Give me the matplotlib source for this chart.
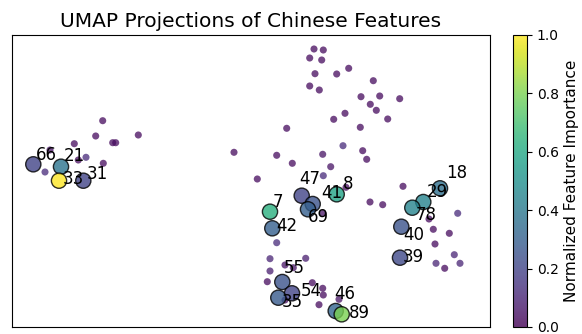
import matplotlib
matplotlib.use("Agg")
import matplotlib.pyplot as plt
import numpy as np

# background features (small dots): umap x, umap y, importance
bg_x = [102.7, 95.7, 138.3, 74.3, 112.7, 115.7, 50.0, 78.3, 86.0, 103.3, 45.0,
        314.0, 323.3, 309.7, 321.7, 315.0, 336.7, 348.7, 373.3, 309.7, 319.3,
        361.0, 379.7, 399.7, 370.3, 376.3, 345.0, 333.7, 387.7, 286.7, 360.3,
        234.0, 276.7, 322.7, 343.0, 362.7, 366.7, 292.3, 330.7,
        257.3, 323.3, 403.0, 370.0, 382.7, 346.0, 323.0,
        276.7, 270.0, 305.7, 270.0, 267.3, 285.0, 293.3, 312.3, 322.7, 323.3,
        319.0, 339.0, 285.0,
        457.7, 429.0, 433.3, 449.3, 435.0, 454.3, 436.0, 460.0, 444.7]
bg_y = [213.3, 198.0, 199.0, 190.3, 191.3, 191.3, 184.0, 174.0, 176.7, 170.7, 162.0,
        285.0, 284.0, 276.0, 274.0, 260.3, 260.0, 265.7, 253.3, 248.0, 244.0,
        237.3, 238.0, 235.3, 229.7, 223.7, 220.7, 214.7, 215.0, 205.7, 206.7,
        181.7, 178.7, 179.7, 188.3, 183.3, 174.7, 170.7, 167.3,
        155.0, 158.3, 147.7, 132.0, 129.3, 146.7, 120.7,
        91.3, 75.3, 75.7, 63.0, 52.3, 69.0, 66.3, 51.3, 45.7, 39.0,
        29.3, 34.7, 34.0,
        120.7, 115.0, 104.7, 100.7, 90.0, 79.3, 70.7, 70.7, 65.7]
bg_v = [0.03, 0.03, 0.03, 0.03, 0.03, 0.03, 0.05, 0.03, 0.12, 0.03, 0.12,
        0.03, 0.03, 0.03, 0.03, 0.03, 0.03, 0.03, 0.03, 0.03, 0.03,
        0.03, 0.03, 0.03, 0.03, 0.03, 0.03, 0.03, 0.03, 0.03, 0.03,
        0.03, 0.03, 0.05, 0.12, 0.03, 0.03, 0.03, 0.05,
        0.03, 0.12, 0.03, 0.03, 0.03, 0.03, 0.05,
        0.12, 0.1, 0.08, 0.08, 0.03, 0.05, 0.05, 0.03, 0.03, 0.03,
        0.03, 0.05, 0.03,
        0.12, 0.03, 0.03, 0.03, 0.03, 0.1, 0.1, 0.1, 0.03]

# top features (large, labelled)
top_ids = ['66', '21', '31', '33', '47', '41', '69', '8', '7', '42', '55', '54',
           '35', '46', '89', '18', '29', '78', '40', '39']
top_x = [33.3, 61.0, 83.3, 59.0, 301.7, 312.7, 308.0, 336.7, 270.0, 272.3, 282.3, 292.0,
         278.3, 335.7, 341.7, 440.0, 423.3, 412.3, 401.3, 400.0]
top_y = [169.7, 167.3, 153.3, 153.3, 138.3, 130.0, 124.7, 139.7, 122.3, 105.7, 52.0, 40.7,
         36.3, 23.0, 19.7, 145.7, 132.0, 126.3, 107.3, 76.3]
top_v = [0.2, 0.38, 0.2, 1.0, 0.2, 0.25, 0.3, 0.58, 0.63, 0.3, 0.25, 0.2,
         0.28, 0.32, 0.8, 0.36, 0.45, 0.45, 0.25, 0.22]
# label offsets (pixels)
lab_dx = [3, 3, 3, 4, -2, 9, 0, 6, 3, 4, 1, 9, 3, -1, 7, 6, 3, 3, 2, 3]
lab_dy = [4, 6, 2, -3, 12, 6, -13, 5, 5, -3, 9, -3, -9, 12, -4, 10, 5, -12, -13, -4]

fig = plt.figure(figsize=(5.82, 3.34), dpi=100)
ax = fig.add_axes([12/582, 7/334, 478/582, 292/334])
cax = fig.add_axes([513/582, 7/334, 14/582, 292/334])

ax.scatter(bg_x, bg_y, c=bg_v, cmap='viridis', vmin=0, vmax=1, s=26, alpha=0.75,
           linewidths=0)
sc = ax.scatter(top_x, top_y, c=top_v, cmap='viridis', vmin=0, vmax=1, s=120,
                alpha=0.8, edgecolors='k', linewidths=1)
for i in range(len(top_ids)):
    ax.annotate(top_ids[i], (top_x[i], top_y[i]), xytext=(lab_dx[i], lab_dy[i]),
                textcoords='offset pixels', fontsize=12, va='baseline')

ax.set_xlim(12, 490)
ax.set_ylim(7, 299)
ax.set_xticks([])
ax.set_yticks([])
ax.set_title('UMAP Projections of Chinese Features', fontsize=14.5)

cb = fig.colorbar(sc, cax=cax)
cb.set_label('Normalized Feature Importance', fontsize=11)
cb.set_ticks([0.0, 0.2, 0.4, 0.6, 0.8, 1.0])

fig.savefig('out.png', dpi=100)
